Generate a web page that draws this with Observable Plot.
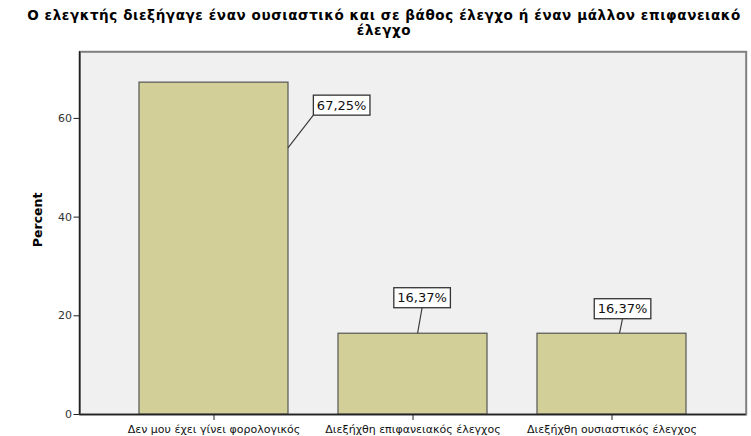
<!DOCTYPE html>
<html><head><meta charset="utf-8">
<script src="https://cdn.jsdelivr.net/npm/d3@7"></script>
<script src="https://cdn.jsdelivr.net/npm/@observablehq/plot@0.6"></script>
<style>
body{margin:0;background:#fff;}
#title{width:751px;height:46px;box-sizing:border-box;padding-top:8px;padding-left:17px;text-align:center;font:bold 13.5px "DejaVu Sans";letter-spacing:0.6px;line-height:15px;color:#000;white-space:nowrap;}
#chart svg{display:block;overflow:visible;}
</style></head><body>
<div id="title">Ο ελεγκτής διεξήγαγε έναν ουσιαστικό και σε βάθος έλεγχο ή έναν μάλλον επιφανειακό<br>έλεγχο</div>
<div id="chart"></div>
<script>
const categories = ["Δεν μου έχει γίνει φορολογικός έλεγχο", "Διεξήχθη επιφανειακός έλεγχος", "Διεξήχθη ουσιαστικός έλεγχος"];
const xTickLabels = ["Δεν μου έχει γίνει φορολογικός\nέλεγχο", "Διεξήχθη επιφανειακός έλεγχος", "Διεξήχθη ουσιαστικός έλεγχος"];
const percents = [67.25, 16.37, 16.37];
const yTicks = [0, 20, 40, 60];
const yLabel = "Percent";

const data = categories.map((c, i) => ({category: c, percent: percents[i]}));
const fmt = v => v.toFixed(2).replace(".", ",") + "%";

const plot = Plot.plot({
  width: 751,
  height: 390,
  marginLeft: 79.5,
  marginRight: 5.3,
  marginTop: 5.3,
  marginBottom: 22,
  style: {fontFamily: "DejaVu Sans", fontSize: "11px", color: "#222", background: "transparent"},
  x: {domain: categories, paddingInner: 0.25, paddingOuter: 0.291, label: null},
  y: {domain: [0, 73.5], label: null},
  marks: [
    Plot.frame({fill: "#f0f0f0", stroke: "#808080", strokeWidth: 2}),
    Plot.barY(data, {x: "category", y: "percent", fill: "#d3cf98", stroke: "#555", strokeWidth: 1.2}),
    Plot.ruleY([0], {stroke: "#222", strokeWidth: 1.5}),
    Plot.axisY({ticks: yTicks, tickSize: 6, tickPadding: 2, label: null, stroke: "#222", fill: "#333", fontSize: 11}),
    Plot.axisX({tickSize: 6, tickPadding: 3, label: null, stroke: "#222", fill: "#111", fontSize: 11, lineHeight: 1.2,
      tickFormat: d => xTickLabels[categories.indexOf(d)]}),
    Plot.text([yLabel], {frameAnchor: "left", text: d => d, rotate: -90, dx: -42, dy: 14,
      fontWeight: "bold", fontSize: 12.5, fill: "#000"})
  ]
});
document.getElementById("chart").appendChild(plot);

// value labels (boxed callouts) and left axis line, placed via the plot's own scales
const xs = plot.scale("x"), ys = plot.scale("y");
const band = d3.scaleBand().domain(xs.domain).range(xs.range).paddingInner(xs.paddingInner).paddingOuter(xs.paddingOuter).align(xs.align ?? 0.5);
const yl = d3.scaleLinear().domain(ys.domain).range(ys.range);
const svg = d3.select(plot);
svg.append("line")
  .attr("x1", xs.range[0]).attr("x2", xs.range[0])
  .attr("y1", yl(ys.domain[0])).attr("y2", yl(ys.domain[1]))
  .attr("stroke", "#222").attr("stroke-width", 1.5);

const boxOffset = [[129, 23], [9.5, -35.5], [10, -24.5]];
const leaderStart = [[75.3, 65.7], [5, 0], [7, 0]];
const g = svg.append("g").attr("font-family", "DejaVu Sans").attr("font-size", 13);
data.forEach((d, i) => {
  const cx = band(d.category) + band.bandwidth() / 2;
  const cy = yl(d.percent);
  const bx = cx + boxOffset[i][0], by = cy + boxOffset[i][1];
  const grp = g.append("g");
  const line = grp.append("line");
  const rect = grp.append("rect");
  const t = grp.append("text").attr("x", bx).attr("y", by).attr("text-anchor", "middle")
    .attr("dy", "0.36em").attr("fill", "#111").text(fmt(d.percent));
  const bb = t.node().getBBox();
  const padX = 3.5, h = 20;
  const left = bb.x - padX, right = bb.x + bb.width + padX, top = by - h / 2, bottom = by + h / 2;
  rect.attr("x", left).attr("y", top).attr("width", right - left).attr("height", h)
    .attr("fill", "#fff").attr("stroke", "#333").attr("stroke-width", 1.3);
  const sx = cx + leaderStart[i][0], sy = cy + leaderStart[i][1];
  const ex = sx < left ? left : bx;
  line.attr("x1", sx).attr("y1", sy).attr("x2", ex).attr("y2", bottom).attr("stroke", "#333").attr("stroke-width", 1.1);
});
</script>
</body></html>
